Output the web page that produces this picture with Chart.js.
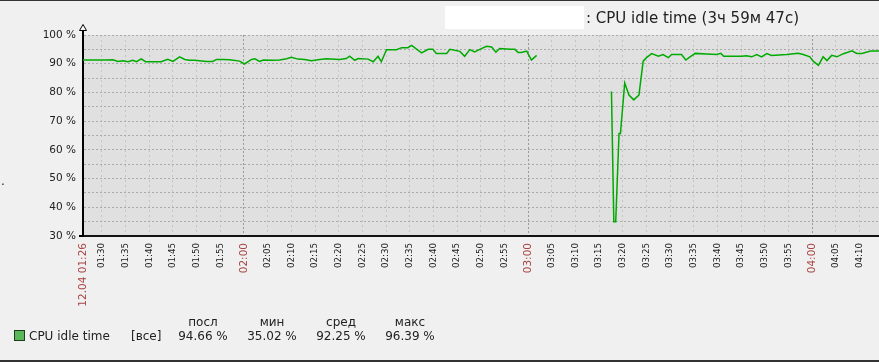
<!DOCTYPE html>
<html>
<head>
<meta charset="utf-8">
<script src="https://cdn.jsdelivr.net/npm/chart.js@4.4.0/dist/chart.umd.min.js"></script>
<style>
    body { margin: 0; background: #f0f0f0; font-family: "DejaVu Sans", sans-serif; color: #222; }
    #wrap { position: relative; width: 879px; height: 362px; overflow: hidden; background: #f0f0f0; }
    #wrap canvas { position: absolute; left: 0; top: 0; }
    .txt { position: absolute; white-space: nowrap; font-size: 12px; line-height: 14px; }
    .col { width: 80px; margin-left: -40px; text-align: center; }
</style>
</head>
<body>
<div id="wrap">
    <canvas id="graph" width="879" height="362"></canvas>
    <div style="position:absolute;left:0;top:0;width:879px;height:1px;background:#333;"></div>
    <div style="position:absolute;left:0;top:360px;width:879px;height:2px;background:#333;"></div>
    <div style="position:absolute;left:445px;top:6px;width:139px;height:23px;background:#fff;"></div>
    <div class="txt" style="left:586px;top:10px;font-size:15px;line-height:17px;">: CPU idle time (3ч 59м 47с)</div>
    <div class="txt" style="left:1px;top:174px;">.</div>

    <div style="position:absolute;left:14px;top:330px;width:9px;height:9px;background:#5ab85a;border:1px solid #1e3c1e;"></div>
    <div class="txt" style="left:29px;top:329px;">CPU idle time</div>
    <div class="txt" style="left:131px;top:329px;">[все]</div>
    <div class="txt col" style="left:203px;top:315px;">посл</div>
    <div class="txt col" style="left:272px;top:315px;">мин</div>
    <div class="txt col" style="left:341px;top:315px;">сред</div>
    <div class="txt col" style="left:410px;top:315px;">макс</div>
    <div class="txt col" style="left:203px;top:329px;">94.66 %</div>
    <div class="txt col" style="left:272px;top:329px;">35.02 %</div>
    <div class="txt col" style="left:341px;top:329px;">92.25 %</div>
    <div class="txt col" style="left:410px;top:329px;">96.39 %</div>
</div>
<script>
// time in minutes after midnight (12.04), null value = no data
var idleTime = [86.0, 90.9, 92.3, 93.4, 94.4, 95.5, 96.5, 97.3, 98.3, 99.2, 102.5, 103.9, 105.0, 106.4, 107.5,
    108.5, 109.6, 112.1, 113.4, 114.2, 115.6, 117.0, 119.1, 120.1, 121.6, 122.3, 123.3, 124.1, 126.1, 127.5,
    129.0, 130.0, 131.4, 132.8, 134.2, 136.0, 137.4, 140.2, 141.6, 142.3, 143.4, 144.1, 146.2, 147.3, 148.3,
    149.0, 150.1, 152.2, 153.3, 154.6, 155.4, 157.5, 158.9, 159.9, 160.6, 162.8, 163.5, 165.6, 166.6, 167.7,
    168.7, 169.8, 171.2, 172.3, 173.2, 174.0, 176.2, 177.2, 177.9, 178.6, 179.7, 180.7, 181.8,
    190.0,
    197.6, 198.1, 198.5, 199.2, 199.5, 200.4, 201.3, 202.3, 203.4, 204.3, 205.0, 206.1, 207.5, 208.5, 209.6,
    210.3, 212.4, 213.3, 214.2, 215.3, 217.7, 219.8, 220.7, 221.3, 225.1, 226.1, 227.2, 228.3, 229.3, 230.4,
    231.4, 234.6, 237.0, 238.1, 239.5, 240.2, 241.3, 242.3, 243.1, 244.1, 245.2, 246.6, 248.4, 249.4, 250.5,
    252.3, 254.2, 255.0];
var idleValues = [91.3, 91.3, 91.4, 90.8, 91.0, 90.7, 91.2, 90.7, 91.7, 90.7, 90.7, 91.5, 90.8, 92.4, 91.5,
    91.2, 91.2, 90.8, 90.8, 91.5, 91.5, 91.4, 90.9, 89.9, 91.5, 91.7, 90.8, 91.3, 91.2, 91.3,
    91.7, 92.2, 91.6, 91.5, 91.0, 91.5, 91.7, 91.5, 91.8, 92.6, 91.2, 91.8, 91.6, 90.7, 92.6,
    90.7, 94.9, 94.9, 95.6, 95.6, 96.4, 93.8, 95.0, 95.0, 93.6, 93.6, 95.0, 94.3, 92.6, 94.9,
    94.1, 95.0, 96.1, 95.8, 94.0, 95.3, 95.0, 95.0, 93.9, 93.9, 94.4, 91.3, 92.9,
    null,
    80.3, 35.0, 35.0, 65.7, 65.7, 83.3, 79.1, 77.4, 79.1, 90.9, 92.1, 93.5, 92.6, 93.2, 92.1,
    93.2, 93.2, 91.3, 92.4, 93.6, 93.4, 93.2, 93.6, 92.6, 92.6, 92.8, 92.4, 93.2, 92.4, 93.5,
    92.9, 93.2, 93.6, 93.2, 92.4, 90.9, 89.4, 92.4, 91.1, 92.9, 92.4, 93.5, 94.5, 93.6, 93.6,
    94.4, 94.4, 94.4];

var tickValues = [86, 90, 95, 100, 105, 110, 115, 120, 125, 130, 135, 140, 145, 150, 155, 160, 165,
    170, 175, 180, 185, 190, 195, 200, 205, 210, 215, 220, 225, 230, 235, 240, 245, 250];
var tickLabels = ['12.04 01:26', '01:30', '01:35', '01:40', '01:45', '01:50', '01:55', '02:00', '02:05',
    '02:10', '02:15', '02:20', '02:25', '02:30', '02:35', '02:40', '02:45', '02:50', '02:55', '03:00',
    '03:05', '03:10', '03:15', '03:20', '03:25', '03:30', '03:35', '03:40', '03:45', '03:50', '03:55',
    '04:00', '04:05', '04:10'];
var yTicks = [30, 35, 40, 45, 50, 55, 60, 65, 70, 75, 80, 85, 90, 95, 100];

var points = [];
for (var i = 0; i < idleTime.length; i++) {
    points.push({x: idleTime[i], y: idleValues[i]});
}

// red labels for the start and every full hour
function isMarked(ctx) {
    return ctx.tick && (ctx.index === 0 || ctx.tick.value % 60 === 0);
}

// grey plot background, arrow on the y axis
var plotDecor = {
    id: 'plotDecor',
    beforeDraw: function(chart) {
        var a = chart.chartArea, c = chart.ctx;
        c.save();
        c.fillStyle = '#e0e0e0';
        c.fillRect(a.left, a.top, a.right - a.left, a.bottom - a.top);
        c.restore();
    },
    afterDraw: function(chart) {
        var a = chart.chartArea, c = chart.ctx;
        var x = Math.round(a.left);
        c.save();
        c.strokeStyle = '#000';
        c.lineWidth = 2;
        c.beginPath();
        c.moveTo(x, a.top + 1);
        c.lineTo(x, a.top - 5);
        c.moveTo(x - 4, a.bottom);
        c.lineTo(x, a.bottom);
        c.stroke();
        c.lineWidth = 1;
        c.beginPath();
        c.moveTo(x, a.top - 10.5);
        c.lineTo(x + 3.5, a.top - 4.5);
        c.lineTo(x - 3.5, a.top - 4.5);
        c.closePath();
        c.fillStyle = '#fff';
        c.fill();
        c.stroke();
        c.restore();
    }
};

new Chart(document.getElementById('graph'), {
    type: 'line',
    data: {
        datasets: [{
            data: points,
            borderColor: '#00aa00',
            borderWidth: 1.5,
            pointRadius: 0,
            tension: 0,
            spanGaps: false
        }]
    },
    options: {
        responsive: false,
        animation: false,
        devicePixelRatio: 1,
        layout: {padding: {top: 35, left: 0, right: 0, bottom: 0}},
        plugins: {legend: {display: false}, tooltip: {enabled: false}},
        scales: {
            x: {
                type: 'linear',
                min: 86,
                max: 254.1,
                afterBuildTicks: function(scale) {
                    scale.ticks = tickValues.map(function(v) { return {value: v}; });
                },
                afterFit: function(scale) {
                    scale.height = 126;
                    scale.paddingLeft = 0;
                    scale.paddingRight = 0;
                },
                ticks: {
                    autoSkip: false,
                    minRotation: 90,
                    maxRotation: 90,
                    padding: 7,
                    callback: function(value, index) { return tickLabels[index]; },
                    color: function(ctx) { return isMarked(ctx) ? '#a84444' : '#222'; },
                    font: function(ctx) {
                        return {family: 'DejaVu Sans', size: isMarked(ctx) ? 10.5 : 8.7};
                    }
                },
                grid: {
                    drawTicks: false,
                    color: function(ctx) {
                        if (!ctx.tick || ctx.index === 0) return 'rgba(0,0,0,0)';
                        return ctx.tick.value % 60 === 0 ? '#999' : '#c4c4c4';
                    }
                },
                border: {
                    color: '#111',
                    width: 2,
                    dash: function(ctx) {
                        if (!ctx.tick) return [];
                        return ctx.tick.value % 60 === 0 ? [2, 2] : [2, 3];
                    }
                }
            },
            y: {
                min: 30,
                max: 100,
                afterBuildTicks: function(scale) {
                    scale.ticks = yTicks.map(function(v) { return {value: v}; });
                },
                afterFit: function(scale) {
                    scale.width = 83;
                },
                ticks: {
                    autoSkip: false,
                    padding: 7,
                    color: '#222',
                    font: {family: 'DejaVu Sans', size: 10.5},
                    callback: function(value) { return value % 10 === 0 ? value + ' %' : ''; }
                },
                grid: {
                    drawTicks: false,
                    color: '#aaa'
                },
                border: {
                    color: '#000',
                    width: 2,
                    dash: [2, 2]
                }
            }
        }
    },
    plugins: [plotDecor]
});
</script>
</body>
</html>
